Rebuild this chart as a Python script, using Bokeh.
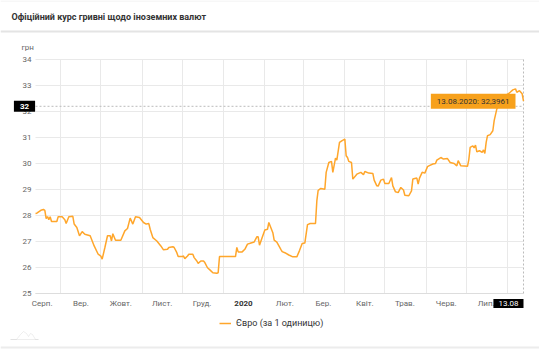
from datetime import datetime
import numpy as np
from bokeh.plotting import figure
from bokeh.models import (Range1d, FixedTicker, Label, Span, Legend, LegendItem,
                          PolyAnnotation)
from bokeh.embed import file_html
from bokeh.resources import INLINE

# ---------------- data ----------------
dates = [
    "2019-08-13", "2019-08-14", "2019-08-17", "2019-08-19", "2019-08-20", "2019-08-21",
    "2019-08-22", "2019-08-23", "2019-08-24", "2019-08-25", "2019-08-29", "2019-08-30",
    "2019-09-02", "2019-09-04", "2019-09-05", "2019-09-07", "2019-09-10", "2019-09-11",
    "2019-09-13", "2019-09-15", "2019-09-17", "2019-09-19", "2019-09-23", "2019-09-26",
    "2019-09-29", "2019-10-01", "2019-10-02", "2019-10-04", "2019-10-06", "2019-10-08",
    "2019-10-09", "2019-10-10", "2019-10-12", "2019-10-16", "2019-10-19", "2019-10-21",
    "2019-10-23", "2019-10-25", "2019-10-27", "2019-10-30", "2019-11-02", "2019-11-04",
    "2019-11-06", "2019-11-07", "2019-11-09", "2019-11-12", "2019-11-15", "2019-11-17",
    "2019-11-20", "2019-11-21", "2019-11-24", "2019-11-25", "2019-11-27", "2019-11-28",
    "2019-12-01", "2019-12-02", "2019-12-03", "2019-12-05", "2019-12-06", "2019-12-09",
    "2019-12-10", "2019-12-12", "2019-12-13", "2019-12-15", "2019-12-17", "2019-12-18",
    "2019-12-20", "2019-12-22", "2019-12-24", "2019-12-27", "2019-12-28", "2019-12-29",
    "2020-01-10", "2020-01-11", "2020-01-12", "2020-01-15", "2020-01-17", "2020-01-19",
    "2020-01-21", "2020-01-24", "2020-01-26", "2020-01-27", "2020-01-28", "2020-01-30",
    "2020-02-01", "2020-02-03", "2020-02-04", "2020-02-07", "2020-02-08", "2020-02-10",
    "2020-02-13", "2020-02-14", "2020-02-16", "2020-02-19", "2020-02-22", "2020-02-25",
    "2020-02-27", "2020-02-29", "2020-03-02", "2020-03-04", "2020-03-06", "2020-03-10",
    "2020-03-11", "2020-03-12", "2020-03-14", "2020-03-17", "2020-03-18", "2020-03-20",
    "2020-03-22", "2020-03-23", "2020-03-25", "2020-03-26", "2020-03-28", "2020-03-30",
    "2020-04-01", "2020-04-02", "2020-04-03", "2020-04-04", "2020-04-06", "2020-04-07",
    "2020-04-10", "2020-04-13", "2020-04-15", "2020-04-16", "2020-04-19", "2020-04-22",
    "2020-04-23", "2020-04-25", "2020-04-26", "2020-04-28", "2020-04-30", "2020-05-01",
    "2020-05-04", "2020-05-06", "2020-05-07", "2020-05-09", "2020-05-11", "2020-05-13",
    "2020-05-15", "2020-05-16", "2020-05-19", "2020-05-21", "2020-05-22", "2020-05-25",
    "2020-05-26", "2020-05-27", "2020-05-29", "2020-05-31", "2020-06-02", "2020-06-03",
    "2020-06-06", "2020-06-08", "2020-06-09", "2020-06-12", "2020-06-14", "2020-06-17",
    "2020-06-19", "2020-06-22", "2020-06-24", "2020-06-25", "2020-06-27", "2020-07-02",
    "2020-07-03", "2020-07-04", "2020-07-06", "2020-07-07", "2020-07-08", "2020-07-09",
    "2020-07-11", "2020-07-13", "2020-07-14", "2020-07-15", "2020-07-16", "2020-07-17",
    "2020-07-19", "2020-07-21", "2020-07-22", "2020-07-24", "2020-07-26", "2020-07-28",
    "2020-07-30", "2020-08-02", "2020-08-03", "2020-08-05", "2020-08-07", "2020-08-08",
    "2020-08-10", "2020-08-12", "2020-08-13",
]
eur = [
    28.08, 28.09, 28.20, 28.23, 28.20, 27.88,
    27.96, 27.84, 27.95, 27.77, 27.77, 27.95,
    27.95, 27.84, 27.69, 27.95, 27.97, 27.67,
    27.54, 27.22, 27.38, 27.28, 27.22, 26.83,
    26.51, 26.44, 26.32, 26.76, 27.22, 27.22,
    27.02, 27.30, 27.05, 27.05, 27.41, 27.50,
    27.90, 27.67, 27.95, 27.92, 27.73, 27.67,
    27.69, 27.47, 27.15, 27.02, 26.83, 26.68,
    26.70, 26.77, 26.80, 26.77, 26.57, 26.42,
    26.42, 26.44, 26.34, 26.44, 26.51, 26.51,
    26.38, 26.25, 26.16, 26.25, 26.25, 26.19,
    25.99, 25.90, 25.80, 25.78, 25.80, 26.42,
    26.42, 26.77, 26.60, 26.60, 26.70, 26.90,
    26.93, 26.98, 27.18, 27.18, 26.86, 27.15,
    27.44, 27.47, 27.73, 27.34, 27.05, 26.98,
    26.70, 26.61, 26.57, 26.48, 26.41, 26.41,
    26.65, 26.92, 26.94, 27.65, 27.69, 27.69,
    28.56, 28.97, 29.04, 29.01, 29.66, 30.04,
    30.08, 29.66, 30.21, 30.13, 30.81, 30.88,
    30.94, 30.30, 30.23, 30.08, 30.04, 29.40,
    29.59, 29.66, 29.57, 29.69, 29.63, 29.62,
    29.36, 29.14, 29.13, 29.36, 29.40, 29.23,
    29.23, 29.46, 29.14, 28.91, 28.88, 29.08,
    28.98, 28.78, 28.76, 28.95, 29.40, 29.44,
    29.21, 29.44, 29.66, 29.63, 29.88, 29.91,
    29.98, 30.00, 30.13, 30.23, 30.17, 30.19,
    30.04, 30.00, 29.91, 30.11, 29.91, 29.89,
    30.15, 30.62, 30.68, 30.60, 30.71, 30.45,
    30.49, 30.43, 30.52, 30.39, 30.81, 31.07,
    31.11, 31.26, 31.65, 32.10, 32.25, 32.40,
    32.60, 32.70, 32.74, 32.83, 32.87, 32.74,
    32.80, 32.68, 32.3961,
]

month_starts = ["2019-09-01", "2019-10-01", "2019-11-01", "2019-12-01", "2020-01-01",
                "2020-02-01", "2020-03-01", "2020-04-01", "2020-05-01", "2020-06-01",
                "2020-07-01", "2020-08-01"]
month_label_dates = ["2019-08-18", "2019-09-16", "2019-10-16", "2019-11-16", "2019-12-16",
                     "2020-01-16", "2020-02-16", "2020-03-16", "2020-04-16", "2020-05-16",
                     "2020-06-16", "2020-07-16"]
month_labels = ["Серп.", "Вер.", "Жовт.", "Лист.", "Груд.", "2020", "Лют.", "Бер.",
                "Квіт.", "Трав.", "Черв.", "Лип."]
year_label = "2020"
y_ticks = [25, 26, 27, 28, 29, 30, 31, 32, 33, 34]
title_text = "Офіційний курс гривні щодо іноземних валют"
unit_text = "грн"
series_name = "Євро (за 1 одиницю)"
crosshair_value = 32.2

# ---------------- geometry ----------------
W, H = 539, 350
PL, PR, PT, PB = 35, 16, 59, 57          # where the data area sits on the page
PLOT_W = W - PL - PR
PLOT_H = H - PT - PB
Y0, Y1 = y_ticks[0], y_ticks[-1]

def to_ms(ds):
    return np.array(ds, dtype="datetime64[ms]").astype(np.int64).tolist()

x_dt = np.array(dates, dtype="datetime64[ms]")
label_ms = to_ms(month_label_dates)
start_ms = to_ms(month_starts)
x0_ms = to_ms([dates[0]])[0]
last_ms = to_ms([dates[-1]])[0]
last_val = eur[-1]
d = datetime.strptime(dates[-1], "%Y-%m-%d")
span_ms = last_ms - x0_ms
unit_px = PLOT_H / (Y1 - Y0)

def px_x(px):   # page pixel -> data x (annotation placement)
    return x0_ms + (px - PL) / PLOT_W * span_ms

def px_y(py):   # page pixel -> data y
    return Y1 - (py - PT) / unit_px

def boxed_label(pad, fallback, **kw):
    try:
        return Label(padding=pad, **kw)
    except Exception:
        return Label(padding=fallback, **kw)

FONT = "Roboto"
LINE_COLOR = "#FFA62B"
GRID = "#e9e9e9"

# the frame covers the whole canvas; the axes are pinned at fixed data locations
p = figure(width=W, height=H, x_axis_type="datetime",
           x_range=Range1d(start=px_x(0), end=px_x(W)),
           y_range=Range1d(start=px_y(H), end=px_y(0)),
           output_backend="svg", toolbar_location=None,
           min_border=0, min_border_left=0, min_border_right=0,
           min_border_top=0, min_border_bottom=0)
p.outline_line_color = None
p.title.visible = False

xa = p.xaxis[0]
xa.fixed_location = Y0
xa.bounds = (x0_ms, last_ms)
xa.ticker = FixedTicker(ticks=label_ms)
xa.major_label_overrides = {t: ("" if lab == year_label else lab)
                            for t, lab in zip(label_ms, month_labels)}
xa.major_tick_line_color = None
xa.minor_tick_line_color = None
xa.major_tick_out = 0
xa.minor_tick_out = 0
xa.axis_line_color = "#dddddd"
xa.major_label_text_font = FONT
xa.major_label_text_font_size = "8px"
xa.major_label_text_color = "#666666"
xa.major_label_standoff = 5

ya = p.yaxis[0]
ya.fixed_location = x0_ms
ya.bounds = (Y0, Y1)
ya.ticker = FixedTicker(ticks=y_ticks)
ya.major_tick_line_color = None
ya.minor_tick_line_color = None
ya.major_tick_out = 0
ya.minor_tick_out = 0
ya.axis_line_color = None
ya.major_label_text_font = FONT
ya.major_label_text_font_size = "8px"
ya.major_label_text_color = "#666666"
ya.major_label_standoff = 4

# grid restricted to the data area
grid_ok = True
try:
    p.xgrid.ticker = FixedTicker(ticks=start_ms)
    p.xgrid.cross_bounds = (Y0, Y1)
    p.ygrid.ticker = FixedTicker(ticks=y_ticks)
    p.ygrid.cross_bounds = (x0_ms, last_ms)
    p.xgrid.grid_line_color = GRID
    p.ygrid.grid_line_color = GRID
except Exception:
    grid_ok = False
if not grid_ok:
    p.xgrid.visible = False
    p.ygrid.visible = False
    st = np.array(month_starts, dtype="datetime64[ms]")
    p.segment(x0=st, y0=[Y0] * len(st), x1=st, y1=[Y1] * len(st),
              line_color=GRID, line_width=1)
    p.segment(x0=[x_dt[0]] * len(y_ticks), y0=y_ticks, x1=[x_dt[-1]] * len(y_ticks),
              y1=y_ticks, line_color=GRID, line_width=1)

# crosshair
p.segment(x0=[x_dt[0]], y0=[crosshair_value], x1=[x_dt[-1]], y1=[crosshair_value],
          line_color="#bbbbbb", line_dash="2 2", line_width=1)
p.segment(x0=[x_dt[-1]], y0=[Y0], x1=[x_dt[-1]], y1=[Y1],
          line_color="#bbbbbb", line_dash="2 2", line_width=1)

# series
r = p.line(x_dt, eur, line_color=LINE_COLOR, line_width=1.5)

# tooltip
tip = f"{d.strftime('%d.%m.%Y')}: {str(last_val).replace('.', ',')}"
p.add_layout(boxed_label((6, 3), 5, x=last_ms, y=last_val, text=tip, x_offset=-8,
                         text_font=FONT, text_font_size="8px", text_color="#333333",
                         text_align="right", text_baseline="middle",
                         background_fill_color="#F7A11C"))

# header
p.add_layout(Label(x=px_x(11), y=px_y(16), text=title_text, text_font=FONT,
                   text_font_size="9px", text_font_style="bold", text_color="#333333",
                   text_baseline="middle"))
p.add_layout(Span(location=px_y(31), dimension="width", line_color="#e4e4e4",
                  line_width=2))
p.add_layout(Span(location=px_y(0.5), dimension="width", line_color="#f0f0f0",
                  line_width=1))
p.add_layout(Label(x=px_x(21), y=px_y(47), text=unit_text, text_font=FONT,
                   text_font_size="8px", text_color="#666666", text_baseline="middle"))

# crosshair labels and bold year label
p.add_layout(boxed_label((6, 3), 4, x=px_x(24), y=crosshair_value,
                         text=str(int(round(crosshair_value))),
                         text_font=FONT, text_font_size="8px", text_font_style="bold",
                         text_color="white", text_align="center", text_baseline="middle",
                         background_fill_color="black"))
p.add_layout(boxed_label((5, 2), 3, x=last_ms, y=px_y(303), text=d.strftime("%d.%m"),
                         text_font=FONT, text_font_size="8px", text_color="white",
                         text_align="right", text_baseline="middle",
                         background_fill_color="black"))
p.add_layout(Label(x=label_ms[month_labels.index(year_label)], y=px_y(303),
                   text=year_label, text_font=FONT, text_font_size="8px",
                   text_font_style="bold", text_color="#333333",
                   text_align="center", text_baseline="middle"))

# legend
legend = Legend(items=[LegendItem(label=series_name, renderers=[r])],
                location=(219, 22), orientation="horizontal",
                glyph_width=12, glyph_height=10, label_height=10,
                label_standoff=5, padding=0, margin=0, spacing=0,
                border_line_color=None, background_fill_alpha=0,
                label_text_font=FONT, label_text_font_size="9px",
                label_text_color="#333333")
p.add_layout(legend, "center")

# footer: small logo and bottom rule
p.add_layout(PolyAnnotation(xs=[10, 16, 20, 23, 26, 28, 30, 32, 35, 38],
                            ys=[11, 11, 16, 19, 17, 14, 17, 16, 11, 11],
                            xs_units="screen", ys_units="screen",
                            fill_alpha=0, line_color="#c8c8c8", line_width=1))
p.add_layout(Span(location=px_y(347), dimension="width", line_color="#ececec",
                  line_width=2))

open("out.html", "w").write(file_html(p, INLINE))
